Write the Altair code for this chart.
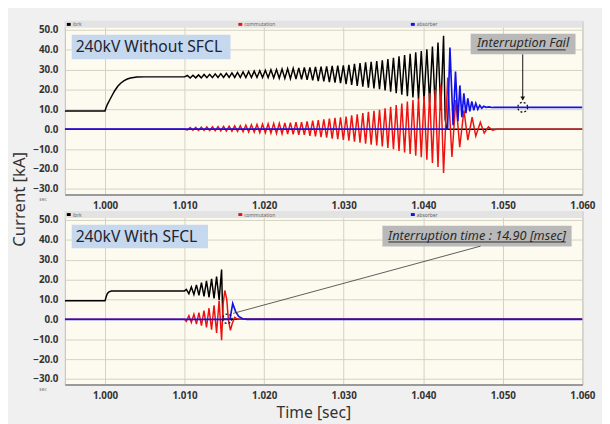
import altair as alt
import pandas as pd

# ---------------- data (time in ms after t = 1.000 s, current in kA) ----------------
# Panel 1: 240kV Without SFCL
black_top_pre_t = [-5.05, 0.0, 0.1, 0.3, 0.6, 0.8, 1.2, 1.6, 2.0, 2.4, 2.8, 3.2, 3.6, 4.0, 5.0]
black_top_pre_v = [9.2, 9.2, 10.5, 12.5, 14.8, 16.3, 19.2, 21.6, 23.2, 24.4, 25.2, 25.7, 26.0, 26.2, 26.3]

osc_top_t = [10.00, 10.35, 10.70, 11.05, 11.40, 11.75, 12.10, 12.45, 12.80, 13.15,
             13.50, 13.85, 14.20, 14.55, 14.90, 15.25, 15.60, 15.95, 16.30, 16.65,
             17.00, 17.35, 17.70, 18.05, 18.40, 18.75, 19.10, 19.45, 19.80, 20.15,
             20.50, 20.85, 21.20, 21.55, 21.90, 22.25, 22.60, 22.95, 23.30, 23.65,
             24.00, 24.35, 24.70, 25.05, 25.40, 25.75, 26.10, 26.45, 26.80, 27.15,
             27.50, 27.85, 28.20, 28.55, 28.90, 29.25, 29.60, 29.95, 30.30, 30.65,
             31.00, 31.35, 31.70, 32.05, 32.40, 32.75, 33.10, 33.45, 33.80, 34.15,
             34.50, 34.85, 35.20, 35.55, 35.90, 36.25, 36.60, 36.95, 37.30, 37.65,
             38.00, 38.35, 38.70, 39.05, 39.40, 39.75, 40.10, 40.45, 40.80, 41.15,
             41.50, 41.85, 42.20, 42.55]
black_top_osc = [26.3, 27.0, 25.7, 27.1, 25.8, 27.3, 25.8, 27.5, 25.9, 27.6,
                 25.9, 27.8, 26.0, 27.9, 26.0, 28.1, 26.0, 28.3, 26.0, 28.5,
                 26.0, 28.8, 26.0, 29.0, 26.0, 29.2, 26.0, 29.4, 26.0, 29.6,
                 25.9, 29.9, 25.8, 30.0, 25.6, 30.2, 25.5, 30.4, 25.4, 30.6,
                 25.2, 30.8, 25.1, 31.0, 24.8, 31.1, 24.5, 31.3, 24.2, 31.5,
                 24.0, 31.6, 23.7, 31.8, 23.4, 32.0, 23.1, 32.1, 22.7, 32.4,
                 22.3, 32.8, 21.8, 33.2, 21.4, 33.6, 20.9, 33.9, 20.5, 34.3,
                 20.1, 34.6, 19.5, 35.3, 18.8, 35.9, 18.1, 36.6, 17.3, 37.3,
                 16.6, 37.9, 15.9, 38.6, 15.1, 39.3, 14.4, 40.2, 13.2, 41.5,
                 11.6, 43.5, 9.5, 47.0]
red_top_osc = [0.0, -0.4, 0.9, -0.5, 0.9, -0.6, 1.0, -0.6, 1.1, -0.7,
               1.2, -0.8, 1.3, -0.8, 1.4, -0.9, 1.5, -1.0, 1.7, -1.1,
               1.8, -1.3, 2.0, -1.4, 2.2, -1.5, 2.4, -1.7, 2.5, -1.8,
               2.7, -2.0, 2.9, -2.1, 3.0, -2.3, 3.2, -2.4, 3.3, -2.6,
               3.5, -2.8, 3.6, -2.9, 3.9, -3.3, 4.3, -3.6, 4.6, -4.0,
               5.0, -4.3, 5.3, -4.7, 5.7, -5.0, 6.0, -5.4, 6.4, -5.8,
               7.0, -6.3, 7.5, -6.8, 8.1, -7.3, 8.7, -7.8, 9.2, -8.2,
               9.8, -8.7, 10.5, -9.4, 11.2, -10.1, 12.1, -10.9, 12.9, -11.7,
               13.9, -12.5, 14.7, -13.3, 15.5, -14.1, 16.7, -15.4, 18.2, -17.0,
               20.0, -19.0, 22.5, -22.0]
black_top_post_t = [42.75, 42.95, 60.0]
black_top_post_v = [5.0, 0.0, 0.0]
red_top_pre_t = [-5.05]
red_top_pre_v = [0.0]
red_top_post_t = [43.07, 43.60, 44.09, 44.58, 45.11, 45.60, 46.14, 46.60, 47.17, 47.66, 48.19, 48.70, 49.20, 60.0]
red_top_post_v = [26.0, -14.0, 14.6, -9.0, 9.5, -5.5, 6.0, -3.5, 3.5, -2.0, 1.2, -0.5, 0.0, 0.0]
blue_top_t = [-5.05, 43.05, 43.35, 43.75, 44.05, 44.35, 44.60, 44.85, 45.10, 45.35, 45.60, 45.85,
              46.10, 46.35, 46.60, 46.85, 47.10, 47.35, 47.60, 47.90, 48.30, 48.60, 49.00, 60.0]
blue_top_v = [0.0, 0.0, 41.0, 2.0, 29.0, 4.0, 22.0, 6.0, 18.0, 8.0, 15.5, 9.0,
              14.0, 9.5, 13.0, 10.0, 12.0, 10.5, 11.5, 11.0, 11.2, 10.9, 11.0, 11.0]

# Panel 2: 240kV With SFCL
black_bot_pre_t = [-5.05, 0.0, 0.15, 0.3, 0.5, 0.8, 1.2, 2.0]
black_bot_pre_v = [9.3, 9.3, 11.5, 13.0, 13.8, 14.2, 14.3, 14.3]
osc_bot_t = [10.00, 10.22, 10.54, 10.85, 11.17, 11.49, 11.80, 12.12,
             12.44, 12.75, 13.07, 13.39, 13.70, 14.02, 14.34, 14.65]
black_bot_osc = [14.3, 15.1, 12.9, 16.3, 12.5, 17.3, 12.1, 18.4,
                 11.6, 19.3, 11.1, 20.3, 10.5, 21.5, 9.8, 25.0]
red_bot_osc = [0.0, -1.0, 1.8, -1.6, 2.6, -2.4, 3.4, -3.2,
               4.4, -4.0, 5.6, -5.2, 7.0, -6.8, 9.5, -10.5]
black_bot_post_t = [14.80, 15.00, 60.0]
black_bot_post_v = [0.5, 0.0, 0.0]
red_bot_pre_t = [-5.05]
red_bot_pre_v = [0.0]
red_bot_post_t = [14.85, 15.06, 15.30, 15.50, 15.76, 16.00, 16.30, 16.70, 60.0]
red_bot_post_v = [8.0, 14.5, 10.0, 0.0, -5.5, -2.0, 1.0, 0.0, 0.0]
blue_bot_t = [-5.05, 15.70, 16.05, 16.40, 16.80, 17.30, 17.80, 60.0]
blue_bot_v = [0.0, 0.0, 8.0, 4.0, 1.5, 0.3, 0.0, 0.0]

# annotation anchors (time ms, kA)
fail_circle = (52.5, 11.0)
fail_arrow = (52.5, 37.6, 14.8)
sfcl_circle = (15.36, 0.3)
sfcl_leader = (16.1, 3.0, 47.2, 36.8)

x_ticks = [1.000, 1.010, 1.020, 1.030, 1.040, 1.050, 1.060]
y_ticks = [-30, -20, -10, 0, 10, 20, 30, 40, 50]
series_names = ["ibrk", "commutation", "absorber"]
series_colors = ["#000000", "#ee1111", "#1111ee"]

W, H = 528, 177
X_DOMAIN = [0.99495, 1.060]
Y_DOMAIN = [-32.8, 54.4]
FONT = "Noto Sans"


def frame(ts, vs):
    return pd.DataFrame({"t": [1 + t / 1000 for t in ts], "v": vs})


xs = alt.Scale(domain=X_DOMAIN, nice=False, zero=False)
ys = alt.Scale(domain=Y_DOMAIN, nice=False, zero=False)
x_axis = alt.Axis(values=x_ticks, format=".3f", title=None, labelFlush=False, ticks=False,
                  labelOverlap=False, labelPadding=6, domainColor="#9a9a9a", domainWidth=2)
y_axis = alt.Axis(values=y_ticks, format=".1f", title=None, labelFlush=False, ticks=False,
                  labelOverlap=False, labelPadding=7, domain=False)
X = alt.X("t:Q", scale=xs, axis=x_axis)
Y = alt.Y("v:Q", scale=ys, axis=y_axis)
one = pd.DataFrame({"z": [0]})


def line(df, color, width=1.5):
    return alt.Chart(df).mark_line(color=color, strokeWidth=width, clip=True).encode(x=X, y=Y)


def px_rect(x1, x2, y1, y2, color):
    return alt.Chart(one).mark_rect(color=color).encode(
        x=alt.value(x1), x2=alt.value(x2), y=alt.value(y1), y2=alt.value(y2))


def px_text(x, y, s, size, color="#222", align="left", **kw):
    return alt.Chart(one).mark_text(align=align, baseline="middle", fontSize=size, font=FONT,
                                    color=color, **kw).encode(
        x=alt.value(x), y=alt.value(y), text=alt.value(s))


def px_rule(x1, x2, y, color, w=1):
    return alt.Chart(one).mark_rule(color=color, strokeWidth=w).encode(
        x=alt.value(x1), x2=alt.value(x2), y=alt.value(y))


def legend_strip():
    layers = [px_rect(0, W, 0, 7, "#e3e3e3")]
    for name, col, x0 in zip(series_names, series_colors, [2, 177, 353]):
        layers.append(px_rect(x0, x0 + 4, 2, 5, col))
        layers.append(px_text(x0 + 6, 3.5, name, 5, "#666"))
    layers.append(px_text(-26, H + 5, "sec", 5, "#777"))
    return layers


# ---------------- top panel ----------------
top_layers = [
    line(frame(black_top_pre_t + osc_top_t + black_top_post_t,
               black_top_pre_v + black_top_osc + black_top_post_v), series_colors[0]),
    line(frame(red_top_pre_t + osc_top_t + red_top_post_t,
               red_top_pre_v + red_top_osc + red_top_post_v), series_colors[1]),
    line(frame(blue_top_t, blue_top_v), series_colors[2], 1.7),
]
top_layers += legend_strip()
top_layers += [
    px_rect(7, 169, 14, 39, "#c6d8ee"),
    px_text(11, 27, "240kV Without SFCL", 16, "#1a2535"),
    px_rect(414, 521, 13, 34, "#b9b9b9"),
    px_text(467.5, 23, "Interruption Fail", 13, "#2b2b2b", align="center", fontStyle="italic"),
    px_rule(421, 511, 29.5, "#2b2b2b"),
    alt.Chart(frame([fail_arrow[0]], [fail_arrow[1]]).assign(v2=[fail_arrow[2]]))
    .mark_rule(color="#111", strokeWidth=1).encode(x=X, y=Y, y2="v2:Q"),
    alt.Chart(frame([fail_arrow[0]], [fail_arrow[2] + 0.6]))
    .mark_point(shape="triangle-down", filled=True, color="#111", size=22, opacity=1)
    .encode(x=X, y=Y),
    alt.Chart(frame([fail_circle[0]], [fail_circle[1]]))
    .mark_point(shape="circle", filled=False, color="#111", size=100, strokeWidth=1.3,
                strokeDash=[2, 2], opacity=1)
    .encode(x=X, y=Y),
    px_text(-46, 182, "Current [kA]", 17, "#333", align="center", angle=270),
]
top = alt.layer(*top_layers).properties(width=W, height=H)

# ---------------- bottom panel ----------------
bot_layers = [
    line(frame(black_bot_pre_t + osc_bot_t + black_bot_post_t,
               black_bot_pre_v + black_bot_osc + black_bot_post_v), series_colors[0]),
    line(frame(red_bot_pre_t + osc_bot_t + red_bot_post_t,
               red_bot_pre_v + red_bot_osc + red_bot_post_v), series_colors[1]),
    line(frame(blue_bot_t, blue_bot_v), series_colors[2], 1.7),
]
bot_layers += legend_strip()
bot_layers += [
    px_rect(7, 146, 14, 38, "#c6d8ee"),
    px_text(11, 26, "240kV With SFCL", 16, "#1a2535"),
    px_rect(324, 517, 15, 36, "#b9b9b9"),
    px_text(420.5, 25, "Interruption time : 14.90 [msec]", 13, "#2b2b2b", align="center",
            fontStyle="italic"),
    px_rule(330, 511, 31.5, "#2b2b2b"),
    alt.Chart(frame([sfcl_leader[0]], [sfcl_leader[1]]).assign(
        t2=[1 + sfcl_leader[2] / 1000], v2=[sfcl_leader[3]]))
    .mark_rule(color="#333", strokeWidth=0.8).encode(x=X, y=Y, x2="t2:Q", y2="v2:Q"),
    alt.Chart(frame([sfcl_circle[0]], [sfcl_circle[1]]))
    .mark_point(shape="circle", filled=False, color="#111", size=90, strokeWidth=1.3,
                strokeDash=[2, 2], opacity=1)
    .encode(x=X, y=Y),
    px_text(254, 206, "Time [sec]", 16, "#333", align="center"),
]
bot = alt.layer(*bot_layers).properties(width=W, height=H)

chart = (
    alt.vconcat(top, bot, spacing=17, bounds="flush")
    .properties(background="#f0f0f0", padding={"left": 2, "top": 8, "right": 6, "bottom": 0})
    .configure_view(fill="#fdfbef", stroke="#bdbdbd", strokeWidth=1)
    .configure_axis(labelFont=FONT, labelFontSize=10, labelFontWeight="bold", labelColor="#333",
                    gridColor="#d2d2c2", gridWidth=1, labelOverlap=False)
)

chart.save("out.html", embed_options={"renderer": "svg", "actions": False})
